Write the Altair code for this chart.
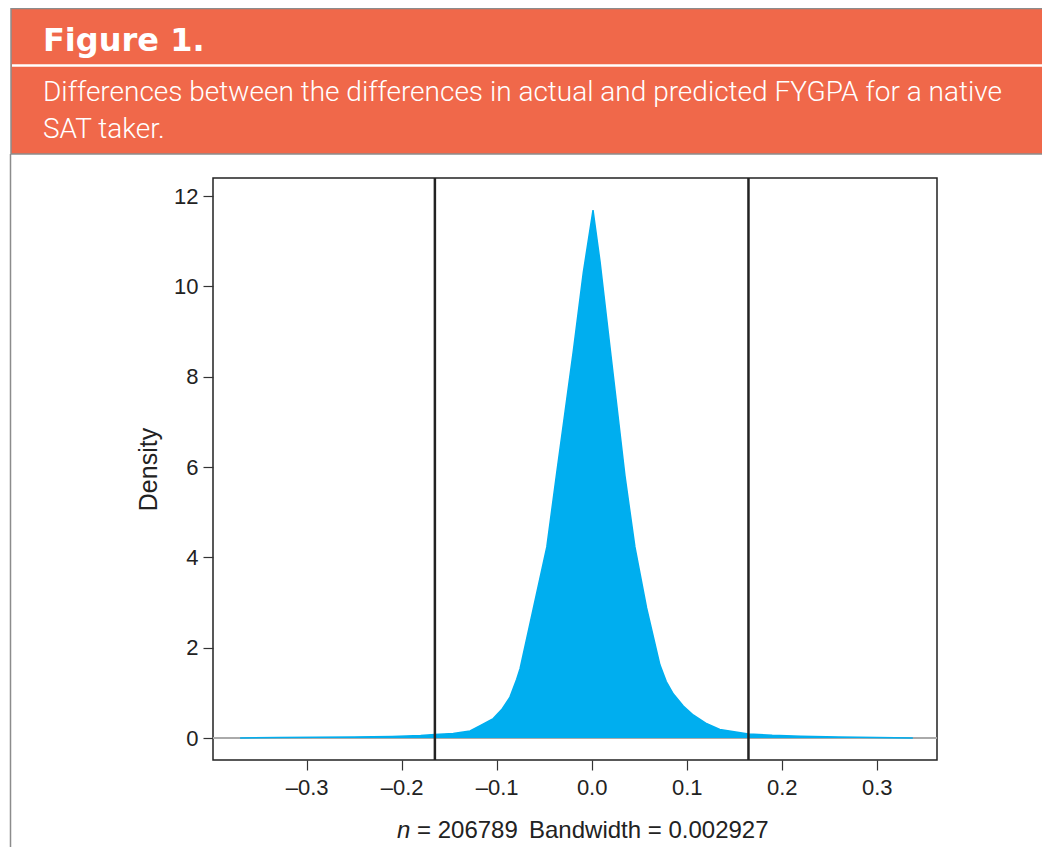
import altair as alt
import pandas as pd

# ---- data ----
dens_x = [-0.370, -0.33, -0.29, -0.25, -0.21, -0.18, -0.165, -0.1457, -0.128, -0.1178,
          -0.1036, -0.0947, -0.086, -0.0789, -0.0753, -0.0613, -0.0472, -0.0367, -0.028,
          -0.0193, -0.0088, 0.0014, 0.0088, 0.0175, 0.0263, 0.035, 0.0455, 0.0578,
          0.0718, 0.0785, 0.0858, 0.0964, 0.1068, 0.1200, 0.1348, 0.165, 0.19, 0.22,
          0.26, 0.30, 0.338]
dens_y = [0.0, 0.01, 0.015, 0.02, 0.035, 0.055, 0.075, 0.10, 0.155, 0.27,
          0.43, 0.63, 0.905, 1.30, 1.54, 2.88, 4.23, 5.89, 7.23,
          8.57, 10.31, 11.69, 10.55, 8.97, 7.39, 5.81, 4.23, 2.88,
          1.62, 1.25, 0.98, 0.71, 0.51, 0.33, 0.19, 0.09, 0.06, 0.04,
          0.025, 0.01, 0.0]
vline_x = [-0.165, 0.165]
x_ticks = [-0.3, -0.2, -0.1, 0.0, 0.1, 0.2, 0.3]
y_ticks = [0, 2, 4, 6, 8, 10, 12]
x_domain = [-0.3985, 0.3634]
y_domain = [-0.487, 12.40]
fig_label = "Figure 1."
subtitle_line1 = "Differences between the differences in actual and predicted FYGPA for a native"
subtitle_line2 = "SAT taker."
n_label = "n"
n_value_text = "= 206789"
bw_text = "Bandwidth = 0.002927"
y_title = "Density"

ORANGE = "#F0684A"
BLUE = "#00AEEF"
W, H = 724, 582

dens = pd.DataFrame({"x": dens_x, "y": dens_y})
vl = pd.DataFrame({"x": vline_x})
one = alt.Data(values=[{}])

xs = alt.Scale(domain=x_domain, nice=False, zero=False)
ys = alt.Scale(domain=y_domain, nice=False, zero=False)

xaxis = alt.Axis(values=x_ticks, title=None, grid=False, domain=False,
                 tickSize=10, tickColor="#333", tickWidth=1.2,
                 labelFontSize=22, labelFont="Liberation Sans", labelColor="#222",
                 labelPadding=7,
                 labelExpr="datum.value < 0 ? '\u2013' + format(abs(datum.value), '.1f') : format(datum.value, '.1f')")
yaxis = alt.Axis(values=y_ticks, title=y_title, grid=False, domain=False,
                 tickSize=10, tickColor="#333", tickWidth=1.2,
                 labelFontSize=22, labelFont="Liberation Sans", labelColor="#222",
                 labelPadding=5, titleFont="Liberation Sans", titleFontSize=25,
                 titleFontWeight="normal", titleColor="#222", titlePadding=12, format="d")


def text_layer(txt, x, y, **kw):
    return alt.Chart(alt.Data(values=[{"t": txt}])).mark_text(
        align="left", baseline="alphabetic", **kw).encode(
        x=alt.value(x), y=alt.value(y), text="t:N")


# header decoration
header = alt.Chart(one).mark_rect(fill=ORANGE, stroke="#8c8c8c", strokeWidth=1.5).encode(
    x=alt.value(-202), x2=alt.value(845), y=alt.value(-169.5), y2=alt.value(-24))
sep = alt.Chart(one).mark_rule(color="white", strokeWidth=2.5).encode(
    x=alt.value(-201), x2=alt.value(845), y=alt.value(-112.5))
leftborder = alt.Chart(one).mark_rule(color="#8c8c8c", strokeWidth=1.5).encode(
    x=alt.value(-202.5), y=alt.value(-24), y2=alt.value(680))
fig_txt = text_layer(fig_label, -170, -127, font="DejaVu Sans", fontWeight="bold",
                     fontSize=32, color="white")
sub1 = text_layer(subtitle_line1, -170, -77, font="Roboto", fontWeight=300,
                  fontSize=28, color="white")
sub2 = text_layer(subtitle_line2, -170, -40, font="Roboto", fontWeight=300,
                  fontSize=28, color="white")

zero_line = alt.Chart(one).mark_rule(color="#aaaaaa", strokeWidth=2).encode(
    y=alt.datum(0, scale=ys), x=alt.value(0), x2=alt.value(W))
area = alt.Chart(dens).mark_area(color=BLUE, opacity=1,
                                 line={"color": BLUE, "strokeWidth": 1.5}).encode(
    x=alt.X("x:Q", scale=xs, axis=xaxis),
    y=alt.Y("y:Q", scale=ys, axis=yaxis))
vlines = alt.Chart(vl).mark_rule(color="#222", strokeWidth=2.5).encode(
    x=alt.X("x:Q", scale=xs), y=alt.value(0), y2=alt.value(H))

foot = dict(font="Liberation Sans", fontSize=24, color="#222")
n_txt = text_layer(n_label, 184, 660, fontStyle="italic", **foot)
nv_txt = text_layer(n_value_text, 204, 660, **foot)
bw_txt = text_layer(bw_text, 316, 660, **foot)

chart = alt.layer(header, sep, leftborder, fig_txt, sub1, sub2, zero_line, area, vlines,
                  n_txt, nv_txt, bw_txt).properties(
    width=W, height=H,
    autosize=alt.AutoSizeParams(type="none"),
    padding={"left": 205, "top": 170, "right": 105, "bottom": 87},
    background="white",
).configure_view(stroke="#222", strokeWidth=1.5)

chart.save("out.html", embed_options={"renderer": "svg", "actions": False})
